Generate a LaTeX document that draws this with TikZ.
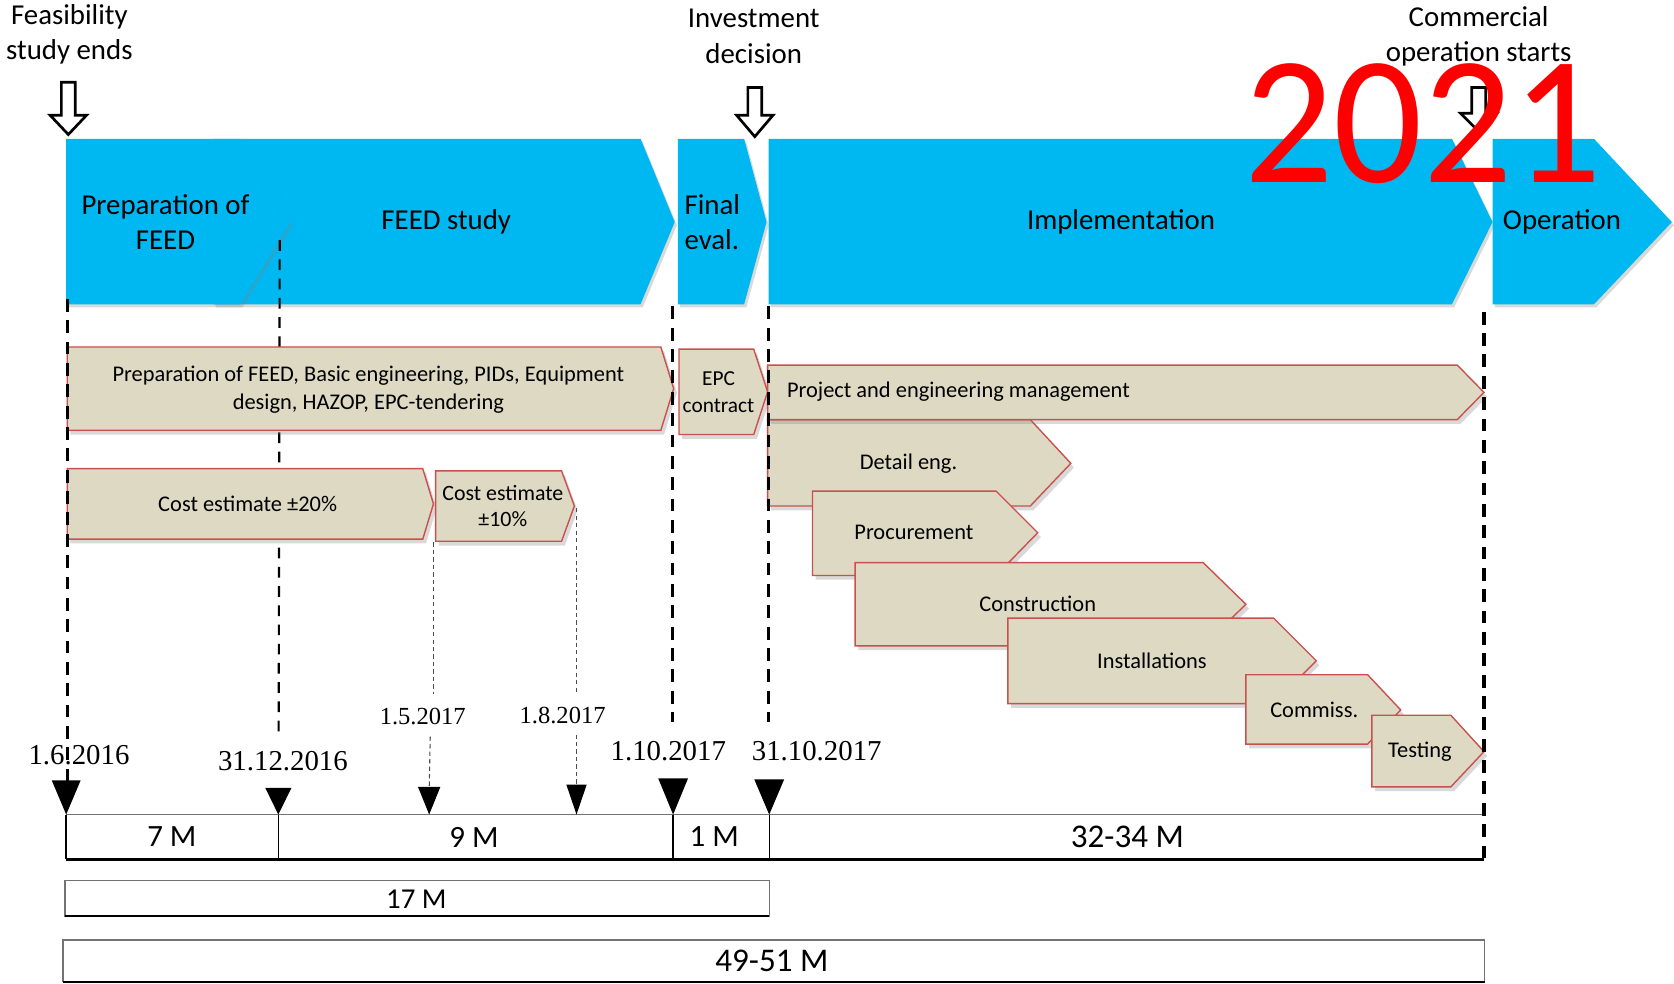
\documentclass[tikz,border=0pt]{standalone}
\usepackage{fontspec}
\setmainfont{Carlito}
\newfontfamily\datefont{Liberation Serif}
\usetikzlibrary{shadows,arrows.meta}
\definecolor{chevblue}{RGB}{0,184,241}
\definecolor{taskfill}{RGB}{221,217,195}
\definecolor{taskline}{RGB}{200,80,77}
\definecolor{bigred}{RGB}{255,0,0}
\begin{document}
\begin{tikzpicture}[x=1pt,y=-1pt,
 bluechev/.style={fill=chevblue, drop shadow={shadow xshift=2pt, shadow yshift=-3pt, opacity=0.3}},
 task/.style={fill=taskfill, draw=taskline, line width=1.3pt, line join=miter, drop shadow={shadow xshift=3pt,shadow yshift=-4pt,opacity=0.3}},
 toplabel/.style={font=\fontsize{27}{33}\selectfont, align=center, inner sep=0pt},
 chevtext/.style={font=\fontsize{27}{32}\selectfont, align=center, inner sep=0pt},
 tasktext/.style={font=\fontsize{21}{26}\selectfont, align=center, inner sep=0pt},
 datelabel/.style={font=\datefont\fontsize{27}{30}\selectfont, inner sep=0pt},
 smalldate/.style={font=\datefont\fontsize{23}{26}\selectfont, inner sep=0pt},
 bartext/.style={font=\fontsize{29}{32}\selectfont, inner sep=0pt},
 hollow/.style={draw=black, fill=white, line width=2.5pt, line join=miter},
 heavydash/.style={draw=black, line width=3pt, dash pattern=on 12pt off 8pt},
 meddash/.style={draw=black, line width=2pt, dash pattern=on 10pt off 8pt},
 thindash/.style={draw=black!70, line width=1pt, dash pattern=on 4pt off 3pt},
 marker/.style={fill=black},
]
\useasboundingbox (0,0) rectangle (1568,921);

% ---------- blue phase chevrons ----------
\path[bluechev] (200,130) -- (600,130) -- (632,208) -- (600,285) -- (200,285) -- cycle;
\path[bluechev] (62,130) -- (225,130) -- (272,208) -- (225,285) -- (62,285) -- cycle;
\path[bluechev] (635,130) -- (697,130) -- (718,208) -- (697,285) -- (635,285) -- cycle;
\path[bluechev] (720,130) -- (1360,130) -- (1398,208) -- (1360,285) -- (720,285) -- cycle;
\path[bluechev] (1398,130) -- (1493,130) -- (1566,208) -- (1493,285) -- (1398,285) -- cycle;

\node[chevtext] (pprep) at (155,208) {Preparation of\\FEED};
\node[chevtext] (pfeed) at (418,208) {FEED study};
\node[chevtext, align=left, anchor=west] (pfinal) at (641,208) {Final\\eval.};
\node[chevtext] (pimpl) at (1050,208) {Implementation};
\node[chevtext] (poper) at (1463,208) {Operation};

% medium dashed line (behind task boxes)
\coordinate (d2top) at (262,225);
\coordinate (d2bot) at (261,686);
\draw[meddash] (d2top) -- (d2bot);

% ---------- beige task chevrons ----------
\path[task] (63,325) -- (619,325) -- (631,364) -- (619,403) -- (63,403) -- cycle;
\node[tasktext] (tprep) at (345,365) {Preparation of FEED, Basic engineering, PIDs, Equipment\\design, HAZOP, EPC-tendering};
\path[task] (636,327) -- (706,327) -- (719,367) -- (706,407) -- (636,407) -- cycle;
\node[tasktext, font=\fontsize{20}{25}\selectfont] (tepc) at (673,367) {EPC\\contract};

\path[task] (63,439) -- (396,439) -- (406,472) -- (396,505) -- (63,505) -- cycle;
\node[tasktext] (tc20) at (232,472) {Cost estimate ±20\%};
\path[task] (408,441) -- (526,441) -- (538,474) -- (526,507) -- (408,507) -- cycle;
\node[tasktext, font=\fontsize{20.5}{25}\selectfont] (tc10) at (471,474) {Cost estimate\\±10\%};

\path[task] (719,393) -- (965,393) -- (1003,434) -- (965,474) -- (719,474) -- cycle;
\node[tasktext] (tdet) at (851,434) {Detail eng.};
\path[task] (719,342) -- (1365,342) -- (1390,367.5) -- (1365,393) -- (719,393) -- cycle;
\node[tasktext, anchor=west] (tpm) at (737,367) {Project and engineering management};
\path[task] (761,460) -- (933,460) -- (972,499) -- (933,539) -- (761,539) -- cycle;
\node[tasktext] (tproc) at (856,499) {Procurement};
\path[task] (801,527) -- (1127,527) -- (1167,566) -- (1127,605) -- (801,605) -- cycle;
\node[tasktext] (tcons) at (972,566) {Construction};
\path[task] (944,579) -- (1193,579) -- (1233,619) -- (1193,659) -- (944,659) -- cycle;
\node[tasktext] (tinst) at (1079,619) {Installations};
\path[task] (1167,632) -- (1281,632) -- (1312,665) -- (1281,697) -- (1167,697) -- cycle;
\node[tasktext] (tcom) at (1231,665) {Commiss.};
\path[task] (1285,670) -- (1359,670) -- (1390,704) -- (1359,737) -- (1285,737) -- cycle;
\node[tasktext] (ttest) at (1330,704) {Testing};

% ---------- date labels ----------
\node[datelabel] (d1) at (74,707) {1.6.2016};
\node[datelabel] (d2) at (265,713) {31.12.2016};
\node[smalldate] (d3) at (396,671) {1.5.2017};
\node[smalldate] (d4) at (527,670) {1.8.2017};
\node[datelabel] (d5) at (626,704) {1.10.2017};
\node[datelabel] (d6) at (765,704) {31.10.2017};

% thin dashed lines
\coordinate (c10a) at (406,508);
\coordinate (c10b) at (406,650);
\coordinate (c10c) at (403,690);
\coordinate (c10d) at (402,740);
\draw[thindash] (c10a) -- (c10b);
\draw[thindash] (c10c) -- (c10d);
\coordinate (c8a) at (540,476);
\coordinate (c8b) at (540,648);
\coordinate (c8c) at (540,688);
\coordinate (c8d) at (540,738);
\draw[thindash] (c8a) -- (c8b);
\draw[thindash] (c8c) -- (c8d);

% ---------- duration bars ----------
\path[fill=white] (62,763) rectangle (1390,805);
\draw[black!55, line width=1.5pt] (62,763) -- (1390,763);
\draw[black, line width=2.5pt] (62,805) -- (1390,805);
\draw[black, line width=1.6pt] (62,763) -- (62,805);
\draw[black, line width=1pt] (261,763) -- (261,805);
\draw[black, line width=2.2pt] (630.5,763) -- (630.5,805);
\draw[black, line width=1pt] (720.5,763) -- (720.5,805);
\node[bartext] (m7) at (161,784) {7 M};
\node[bartext] (m9) at (444,784) {9 M};
\node[bartext] (m1) at (669,784) {1 M};
\node[bartext, font=\fontsize{31}{33}\selectfont] (m32) at (1056,784) {32-34 M};

\draw[black!55, line width=1.2pt, fill=white] (61,825) rectangle (720.5,858);
\draw[black, line width=2pt] (61,858) -- (720.5,858);
\node[bartext, font=\fontsize{27}{30}\selectfont] (m17) at (390,842) {17 M};

\draw[black!55, line width=1.2pt, fill=white] (59,880.5) rectangle (1390.8,919.5);
\draw[black, line width=2pt] (59,919.5) -- (1390.8,919.5);
\node[bartext, font=\fontsize{31}{33}\selectfont] (m49) at (723,900) {49-51 M};

% ---------- heavy dashed milestone lines ----------
\coordinate (h1a) at (63,280);
\coordinate (h1b) at (63,732);
\draw[heavydash] (h1a) -- (h1b);
\coordinate (h5a) at (630,287);
\coordinate (h5b) at (630,676);
\draw[heavydash] (h5a) -- (h5b);
\coordinate (h6a) at (720,287);
\coordinate (h6b) at (720,676);
\draw[heavydash] (h6a) -- (h6b);
\coordinate (h7a) at (1390,292);
\coordinate (h7b) at (1390,807);
\draw[heavydash] (h7a) -- (h7b);

% milestone triangles
\fill[marker] (48.5,731) -- (75.5,731) -- (62,763) -- cycle;
\fill[marker] (248.5,738) -- (273,738) -- (260.7,763) -- cycle;
\fill[marker] (391.5,737) -- (412.5,737) -- (402,763) -- cycle;
\fill[marker] (530.5,735) -- (549.5,735) -- (540,763) -- cycle;
\fill[marker] (616.5,729) -- (644.5,729) -- (630.5,763) -- cycle;
\fill[marker] (706.5,730) -- (734.5,730) -- (720.5,763) -- cycle;

% ---------- top milestone labels and hollow arrows ----------
\node[toplabel] (lfeas) at (65,32) {Feasibility\\study ends};
\node[toplabel] (linv) at (706,34) {Investment\\decision};
\node[toplabel] (lcom) at (1385,34) {Commercial\\operation starts};

\path[hollow] (57.5,77) -- (70.5,77) -- (70.5,108) -- (81,108) -- (64,126) -- (47,108) -- (57.5,108) -- cycle;
\path[hollow] (700.5,82) -- (713.5,82) -- (713.5,108) -- (724,108) -- (707,128) -- (690,108) -- (700.5,108) -- cycle;
\path[hollow] (1378.5,82) -- (1391.5,82) -- (1391.5,106) -- (1402,106) -- (1385,123) -- (1368,106) -- (1378.5,106) -- cycle;

% ---------- year stamp ----------
\node[inner sep=0pt, text=bigred, font=\fontsize{165}{165}\selectfont] (year) at (1333,116) {\scalebox{1}[1.04]{2021}};

\end{tikzpicture}
\end{document}
